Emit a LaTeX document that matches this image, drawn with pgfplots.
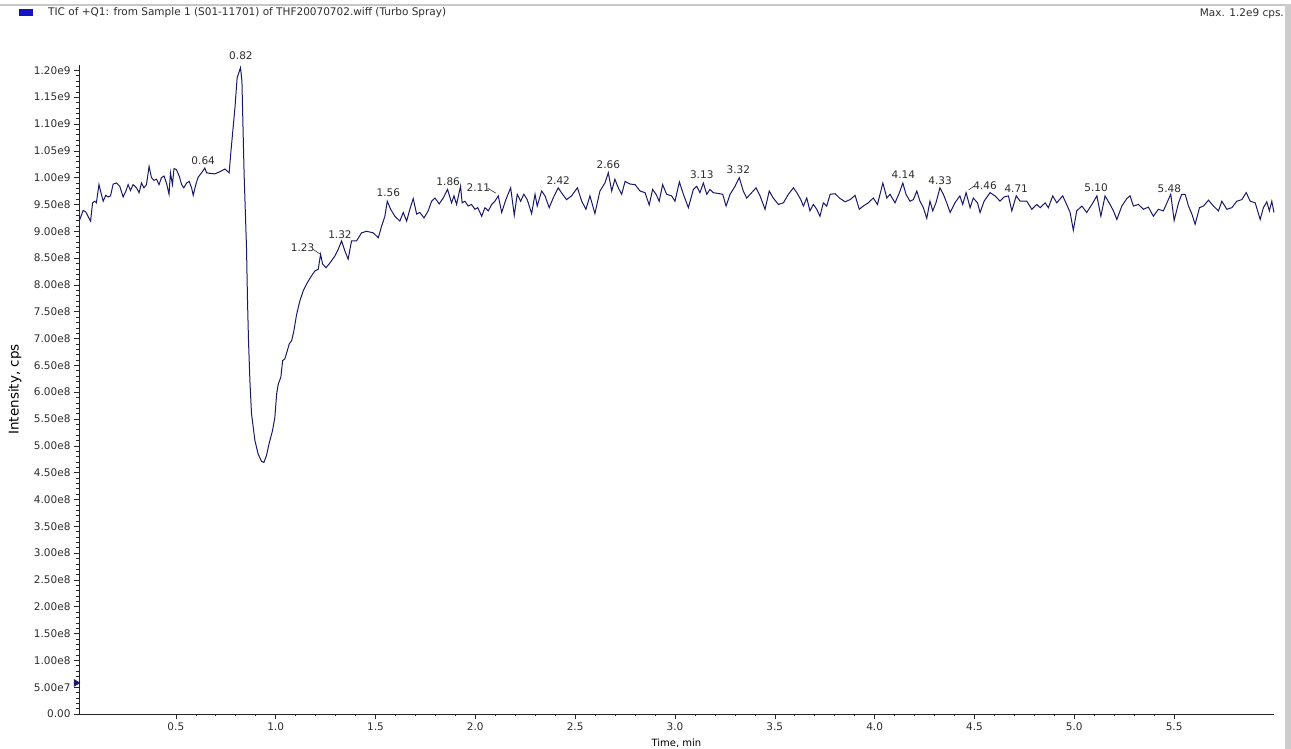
\documentclass[border=0pt]{standalone}
\usepackage{pgfplots}
\pgfplotsset{compat=1.18}
\usepackage{fontspec}
\setmainfont{DejaVu Sans}
\definecolor{navy}{RGB}{25,25,105}
\definecolor{txt}{RGB}{45,45,45}
\definecolor{legblue}{RGB}{20,20,195}
\begin{document}
\begin{tikzpicture}
\path[use as bounding box] (-79pt,-35pt) rectangle (1212pt,714pt);
\begin{axis}[
  at={(0pt,0pt)}, anchor=south west,
  scale only axis, width=1195pt, height=649pt,
  xmin=0.015, xmax=6.0, ymin=0, ymax=1.21e9,
  axis lines=left, axis line style={-, line width=0.8pt, black!85},
  clip=false,
  tick align=outside,
  xtick={0.5,1.0,1.5,2.0,2.5,3.0,3.5,4.0,4.5,5.0,5.5},
  xticklabels={0.5,1.0,1.5,2.0,2.5,3.0,3.5,4.0,4.5,5.0,5.5},
  minor x tick num=4,
  ytick={0,5e7,1e8,1.5e8,2e8,2.5e8,3e8,3.5e8,4e8,4.5e8,5e8,5.5e8,6e8,6.5e8,7e8,7.5e8,8e8,8.5e8,9e8,9.5e8,1e9,1.05e9,1.1e9,1.15e9,1.2e9},
  yticklabels={0.00,5.00e7,1.00e8,1.50e8,2.00e8,2.50e8,3.00e8,3.50e8,4.00e8,4.50e8,5.00e8,5.50e8,6.00e8,6.50e8,7.00e8,7.50e8,8.00e8,8.50e8,9.00e8,9.50e8,1.00e9,1.05e9,1.10e9,1.15e9,1.20e9},
  minor y tick num=4,
  major tick length=5pt, minor tick length=2.5pt,
  tick style={black!85, line width=0.6pt},
  scaled ticks=false,
  /pgf/number format/assume math mode=true,
  ticklabel style={font=\fontsize{10.5}{12}\selectfont, text=txt},
  xlabel={Time, min}, ylabel={Intensity, cps},
  label style={font=\fontsize{10.5}{12}\selectfont, text=txt},
  every axis x label/.style={at={(axis description cs:0.5,0)}, anchor=center, yshift=-29pt},
  every axis y label/.style={at={(axis description cs:-0.0536,0.5)}, anchor=center, rotate=90, font=\fontsize{13.5}{15}\selectfont},
]
\addplot[navy, line width=1pt] table {
t v
0.016 9.19e8
0.036 9.39e8
0.049 9.36e8
0.060 9.28e8
0.073 9.19e8
0.083 9.53e8
0.094 9.56e8
0.102 9.53e8
0.115 9.87e8
0.123 9.75e8
0.136 9.56e8
0.149 9.67e8
0.161 9.64e8
0.173 9.66e8
0.186 9.88e8
0.203 9.90e8
0.219 9.84e8
0.236 9.64e8
0.250 9.75e8
0.261 9.87e8
0.273 9.76e8
0.286 9.87e8
0.303 9.81e8
0.316 9.72e8
0.328 9.90e8
0.340 9.81e8
0.353 9.87e8
0.366 10.21e8
0.378 10.00e8
0.390 9.95e8
0.403 9.97e8
0.416 9.87e8
0.428 10.00e8
0.441 10.03e8
0.453 9.90e8
0.466 9.69e8
0.473 10.09e8
0.483 9.87e8
0.491 10.17e8
0.503 10.15e8
0.517 10.03e8
0.529 9.87e8
0.540 9.81e8
0.554 9.90e8
0.567 9.93e8
0.579 9.81e8
0.587 9.67e8
0.600 9.87e8
0.612 10.01e8
0.629 10.09e8
0.645 10.18e8
0.654 10.09e8
0.670 10.08e8
0.695 10.07e8
0.720 10.11e8
0.746 10.16e8
0.767 10.09e8
0.776 10.49e8
0.796 11.30e8
0.807 11.86e8
0.824 12.05e8
0.831 11.80e8
0.842 10.06e8
0.854 8.69e8
0.859 7.70e8
0.864 6.96e8
0.871 6.21e8
0.879 5.60e8
0.896 5.10e8
0.912 4.85e8
0.929 4.71e8
0.941 4.69e8
0.954 4.82e8
0.967 5.04e8
0.984 5.28e8
0.996 5.53e8
1.005 5.97e8
1.013 6.15e8
1.026 6.28e8
1.035 6.59e8
1.046 6.62e8
1.058 6.77e8
1.068 6.90e8
1.080 6.96e8
1.091 7.14e8
1.105 7.45e8
1.121 7.70e8
1.138 7.89e8
1.158 8.04e8
1.180 8.17e8
1.196 8.26e8
1.213 8.29e8
1.225 8.57e8
1.235 8.39e8
1.252 8.32e8
1.272 8.41e8
1.297 8.54e8
1.313 8.66e8
1.330 8.82e8
1.347 8.63e8
1.363 8.48e8
1.380 8.82e8
1.405 8.82e8
1.430 8.97e8
1.455 9.00e8
1.489 8.97e8
1.514 8.88e8
1.531 9.10e8
1.547 9.28e8
1.559 9.56e8
1.576 9.41e8
1.597 9.28e8
1.622 9.19e8
1.639 9.35e8
1.656 9.19e8
1.672 9.41e8
1.689 9.61e8
1.706 9.32e8
1.722 9.35e8
1.743 9.25e8
1.764 9.38e8
1.781 9.56e8
1.798 9.62e8
1.819 9.51e8
1.839 9.62e8
1.861 9.78e8
1.881 9.53e8
1.893 9.66e8
1.906 9.50e8
1.919 9.72e8
1.926 9.84e8
1.934 9.53e8
1.948 9.56e8
1.964 9.47e8
1.981 9.50e8
1.998 9.41e8
2.012 9.44e8
2.032 9.28e8
2.048 9.44e8
2.065 9.38e8
2.082 9.50e8
2.098 9.56e8
2.115 9.66e8
2.132 9.35e8
2.153 9.59e8
2.177 9.81e8
2.195 9.30e8
2.210 9.69e8
2.227 9.56e8
2.243 9.69e8
2.260 9.59e8
2.282 9.33e8
2.299 9.69e8
2.310 9.47e8
2.332 9.75e8
2.349 9.66e8
2.370 9.44e8
2.390 9.62e8
2.415 9.81e8
2.437 9.69e8
2.457 9.59e8
2.482 9.66e8
2.511 9.81e8
2.533 9.56e8
2.554 9.41e8
2.574 9.66e8
2.599 9.33e8
2.624 9.75e8
2.649 9.90e8
2.666 10.09e8
2.683 9.75e8
2.699 9.97e8
2.716 9.81e8
2.733 9.69e8
2.750 9.93e8
2.775 9.88e8
2.800 9.87e8
2.825 9.75e8
2.850 9.72e8
2.871 9.49e8
2.888 9.78e8
2.905 9.69e8
2.921 9.56e8
2.938 9.87e8
2.958 9.69e8
2.983 9.66e8
3.000 9.56e8
3.022 9.92e8
3.042 9.69e8
3.067 9.44e8
3.092 9.78e8
3.109 9.84e8
3.125 9.72e8
3.142 9.90e8
3.159 9.69e8
3.175 9.78e8
3.192 9.72e8
3.239 9.69e8
3.256 9.47e8
3.276 9.69e8
3.301 9.84e8
3.322 10.00e8
3.342 9.75e8
3.359 9.62e8
3.384 9.72e8
3.406 9.81e8
3.426 9.66e8
3.451 9.41e8
3.472 9.75e8
3.492 9.62e8
3.518 9.50e8
3.543 9.53e8
3.568 9.69e8
3.593 9.81e8
3.610 9.72e8
3.630 9.59e8
3.643 9.47e8
3.660 9.62e8
3.676 9.38e8
3.693 9.50e8
3.710 9.41e8
3.726 9.28e8
3.743 9.53e8
3.760 9.47e8
3.777 9.69e8
3.802 9.70e8
3.827 9.61e8
3.852 9.55e8
3.877 9.59e8
3.902 9.67e8
3.923 9.41e8
3.943 9.47e8
3.968 9.53e8
3.993 9.62e8
4.014 9.50e8
4.041 9.90e8
4.061 9.62e8
4.077 9.69e8
4.102 9.53e8
4.124 9.72e8
4.141 9.90e8
4.157 9.69e8
4.177 9.56e8
4.194 9.59e8
4.211 9.75e8
4.227 9.56e8
4.244 9.44e8
4.261 9.24e8
4.277 9.56e8
4.291 9.38e8
4.307 9.53e8
4.327 9.81e8
4.344 9.69e8
4.361 9.53e8
4.378 9.35e8
4.402 9.53e8
4.427 9.66e8
4.441 9.50e8
4.458 9.72e8
4.478 9.44e8
4.494 9.62e8
4.515 9.53e8
4.528 9.35e8
4.548 9.56e8
4.578 9.72e8
4.603 9.66e8
4.628 9.56e8
4.648 9.64e8
4.670 9.66e8
4.687 9.38e8
4.709 9.66e8
4.729 9.56e8
4.762 9.56e8
4.787 9.41e8
4.812 9.50e8
4.829 9.44e8
4.854 9.53e8
4.870 9.44e8
4.892 9.66e8
4.912 9.53e8
4.942 9.66e8
4.965 9.47e8
4.979 9.35e8
4.995 9.02e8
5.012 9.38e8
5.038 9.47e8
5.062 9.35e8
5.088 9.50e8
5.113 9.66e8
5.133 9.28e8
5.154 9.66e8
5.179 9.50e8
5.196 9.38e8
5.213 9.22e8
5.238 9.47e8
5.263 9.61e8
5.279 9.66e8
5.296 9.47e8
5.321 9.50e8
5.346 9.41e8
5.371 9.45e8
5.396 9.28e8
5.421 9.41e8
5.446 9.38e8
5.471 9.59e8
5.483 9.69e8
5.500 9.20e8
5.522 9.53e8
5.538 9.69e8
5.555 9.69e8
5.572 9.47e8
5.589 9.32e8
5.605 9.13e8
5.627 9.44e8
5.647 9.47e8
5.672 9.58e8
5.697 9.47e8
5.722 9.38e8
5.739 9.56e8
5.764 9.41e8
5.789 9.44e8
5.814 9.56e8
5.839 9.59e8
5.861 9.72e8
5.881 9.56e8
5.906 9.53e8
5.931 9.22e8
5.947 9.44e8
5.964 9.55e8
5.977 9.38e8
5.989 9.56e8
6.000 9.35e8
};
% baseline marker
\addplot[only marks, mark=triangle*, mark size=4pt, mark options={rotate=-90, fill=navy, draw=navy}] coordinates {(0.0,5.8e7)};
% peak labels
\begin{scope}[every node/.style={font=\fontsize{10.5}{12}\selectfont, text=txt, inner sep=0pt}]
\node at (axis cs:0.826,1.228e9) {0.82};
\node at (axis cs:0.637,1.032e9) {0.64};
\node at (axis cs:1.135,0.869e9) {1.23};
\node at (axis cs:1.322,0.894e9) {1.32};
\node at (axis cs:1.564,0.972e9) {1.56};
\node at (axis cs:1.864,0.992e9) {1.86};
\node at (axis cs:2.015,0.981e9) {2.11};
\node at (axis cs:2.415,0.995e9) {2.42};
\node at (axis cs:2.666,1.0245e9) {2.66};
\node at (axis cs:3.134,1.006e9) {3.13};
\node at (axis cs:3.317,1.015e9) {3.32};
\node at (axis cs:4.144,1.006e9) {4.14};
\node at (axis cs:4.328,0.995e9) {4.33};
\node at (axis cs:4.553,0.9855e9) {4.46};
\node at (axis cs:4.709,0.980e9) {4.71};
\node at (axis cs:5.109,0.981e9) {5.10};
\node at (axis cs:5.476,0.980e9) {5.48};
\end{scope}
\draw[txt, line width=0.6pt] (axis cs:1.188,0.866e9) -- (axis cs:1.225,0.857e9);
\draw[txt, line width=0.6pt] (axis cs:2.063,0.980e9) -- (axis cs:2.103,0.971e9);
\draw[txt, line width=0.6pt] (axis cs:4.470,0.977e9) -- (axis cs:4.498,0.984e9);
\end{axis}
% window decorations
\fill[black!22] (-79pt,708pt) rectangle (1212pt,710pt);
\fill[black!20] (1206pt,-35pt) rectangle (1212pt,710pt);
\fill[legblue] (-60pt,698pt) rectangle (-46pt,705pt);
\node[anchor=west, font=\fontsize{10.5}{12}\selectfont, text=txt, inner sep=0pt] at (-31pt,701pt) {TIC of +Q1: from Sample 1 (S01-11701) of THF20070702.wiff (Turbo Spray)};
\node[anchor=east, font=\fontsize{10.5}{12}\selectfont, text=txt, inner sep=0pt] at (1205pt,700pt) {Max. 1.2e9 cps.};
\end{tikzpicture}
\end{document}
